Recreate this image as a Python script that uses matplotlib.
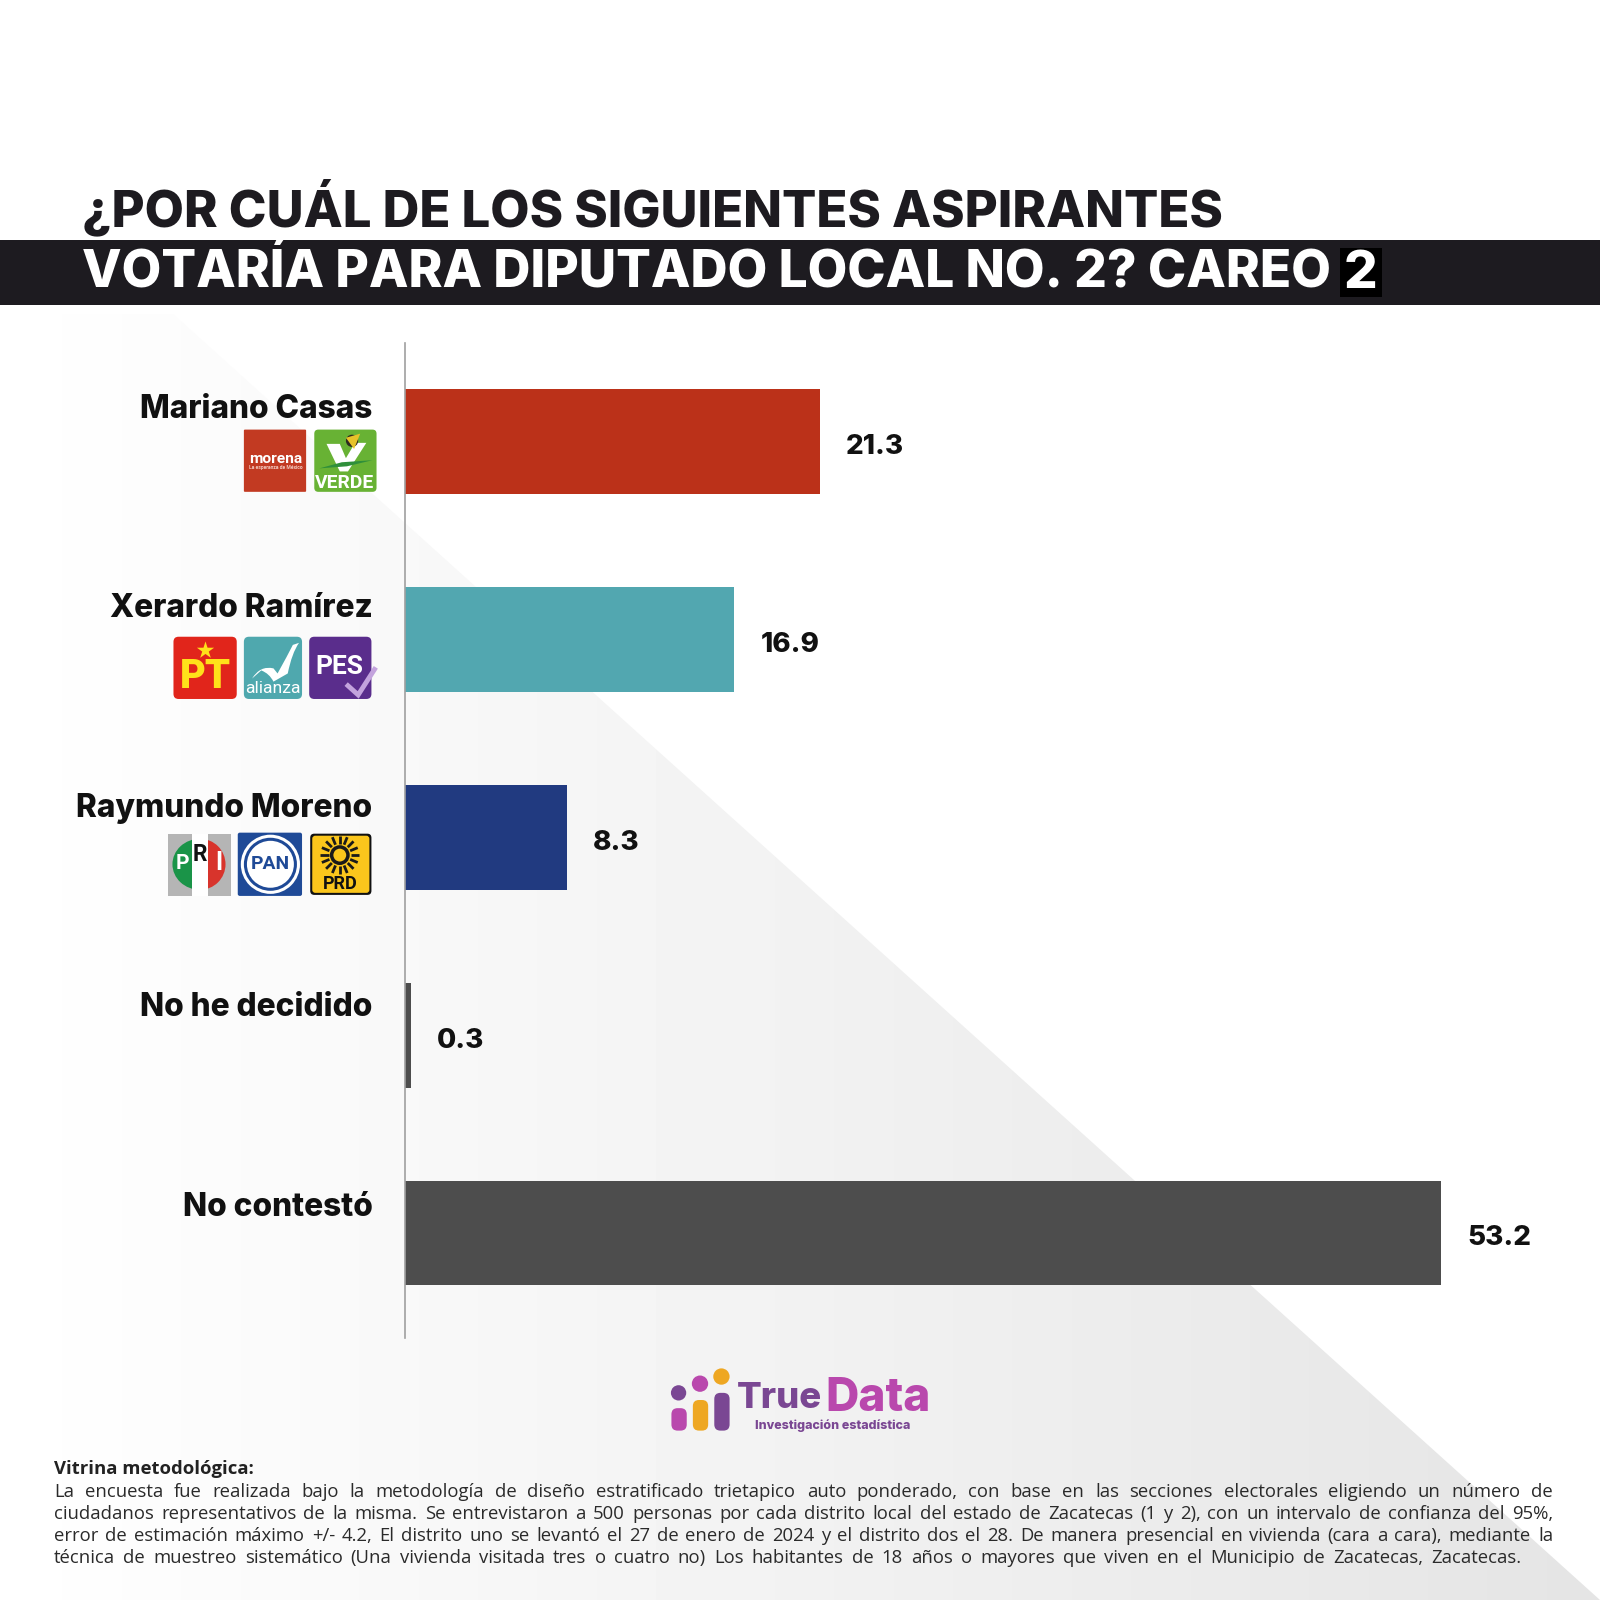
import numpy as np
import matplotlib
matplotlib.use("Agg")
import matplotlib.pyplot as plt
from matplotlib.patches import Rectangle, FancyBboxPatch, Circle, Polygon, Wedge, PathPatch, Ellipse
from matplotlib.path import Path

# ---------- data ----------
names = ["Mariano Casas", "Xerardo Ramírez", "Raymundo Moreno", "No he decidido", "No contestó"]
values = [21.3, 16.9, 8.3, 0.3, 53.2]
bar_colors = ["#bb3119", "#52a7b0", "#213a80", "#4d4d4d", "#4d4d4d"]
title_1 = "¿POR CUÁL DE LOS SIGUIENTES ASPIRANTES"
title_2 = "VOTARÍA PARA DIPUTADO LOCAL NO. 2? CAREO"
footer_head = "Vitrina metodológica:"
footer_lines = [
    "La encuesta fue realizada bajo la metodología de diseño estratificado trietapico auto ponderado, con base en las secciones electorales eligiendo un número de",
    "ciudadanos representativos de la misma. Se entrevistaron a 500 personas por cada distrito local del estado de Zacatecas (1 y 2), con un intervalo de confianza del 95%,",
    "error de estimación máximo +/- 4.2, El distrito uno se levantó el 27 de enero de 2024 y el distrito dos el 28. De manera presencial en vivienda (cara a cara), mediante la",
    "técnica de muestreo sistemático (Una vivienda visitada tres o cuatro no) Los habitantes de 18 años o mayores que viven en el Municipio de Zacatecas, Zacatecas.",
]

S = 1568.0
FONT = "Inter"
HEAVY = 800
BODY = "Open Sans"
fig = plt.figure(figsize=(16, 16), dpi=100, facecolor="white")
bg = fig.add_axes([0, 0, 1, 1], zorder=0)
bg.axis("off")
renderer = fig.canvas.get_renderer()


def fit(t, width):
    w = t.get_window_extent(renderer).width
    t.set_fontsize(t.get_fontsize() * width * (1600 / S) / w)
    return t


# background wedge with horizontal gradient
grad = np.linspace(1, 0.895, 512).reshape(1, -1)
im = bg.imshow(grad, extent=(0, S, S, 0), aspect="auto", cmap="gray", vmin=0, vmax=1, zorder=0)
wedge = Polygon([(170, 308), (S, S), (0, S), (0, 308)], closed=True, transform=bg.transData, fc="none", ec="none")
bg.add_patch(wedge)
im.set_clip_path(wedge)
bg.set_xlim(0, S)
bg.set_ylim(S, 0)

# header
bg.add_patch(Rectangle((0, 235), S, 64, fc="#1d1b20", ec="none", zorder=1))
fit(bg.text(80, 203, title_1, family=FONT, weight=HEAVY, size=40, color="#1d1b20", va="center", zorder=2), 1118)
fit(bg.text(80, 267, title_2, family=FONT, weight=HEAVY, size=40, color="white", va="center", zorder=2), 1224)
bg.add_patch(Rectangle((1313, 243), 41, 48, fc="black", ec="none", zorder=2))
bg.text(1333, 269, "2", family=FONT, weight=HEAVY, size=38, color="white", ha="center", va="center", zorder=3)

# bars
ax_left, ax_right, ax_top, ax_bottom = 397, 1568, 336, 1311
ax = fig.add_axes([ax_left / S, 1 - ax_bottom / S, (ax_right - ax_left) / S, (ax_bottom - ax_top) / S], zorder=1)
ax.patch.set_alpha(0)
y = np.arange(len(values))
ax.barh(y, values, height=0.53, color=bar_colors, linewidth=0)
ax.set_xlim(0, (ax_right - ax_left) / 19.08)
ax.set_ylim(4.53, -0.5)
for s in ["top", "right", "bottom"]:
    ax.spines[s].set_visible(False)
ax.spines["left"].set_color("#a0a0a0")
ax.spines["left"].set_linewidth(1.2)
ax.set_xticks([])
ax.set_yticks([])
for i, (n, v) in enumerate(zip(names, values)):
    ax.annotate(n, (0, i), xytext=(-23.5, 23.5 - 1.27 * i), textcoords="offset points", family=FONT, weight=HEAVY,
                fontsize=22.8, color="#111111", ha="right", va="center", annotation_clip=False)
    ax.annotate(f"{v:.1f}", (v, i), xytext=(19, -4), textcoords="offset points", family=FONT, weight=HEAVY,
                fontsize=20, color="#111111", ha="left", va="center", annotation_clip=False)


# ---------- logos ----------
def box(x0, y0, x1, y1, c, r=4, z=3):
    bg.add_patch(FancyBboxPatch((x0 + r, y0 + r), x1 - x0 - 2 * r, y1 - y0 - 2 * r,
                                boxstyle=f"round,pad={r},rounding_size={r}", fc=c, ec="none", zorder=z))


def label(x, yy, s, c, w, **k):
    t = bg.text(x, yy, s, color=c, family=k.pop("family", "Roboto"), weight=k.pop("weight", "bold"), size=10,
                ha="center", va="center", zorder=6, **k)
    fit(t, w)


# morena
box(239, 421, 300, 482, "#c23a22", r=1)
label(270, 450, "morena", "white", 52)
label(270, 458, "La esperanza de México", "#f2c9bf", 54)
# verde
box(308, 421, 369, 482, "#68b234", r=4)
bg.add_patch(Polygon([(320, 435), (333, 435), (339, 449), (348, 434), (359, 434), (341, 462), (333, 462)], fc="white", ec="none", zorder=4))
bg.add_patch(Polygon([(313, 459), (335, 453), (365, 451), (340, 457)], fc="#2f8f3a", ec="none", zorder=5))
bg.add_patch(Circle((345, 432), 6, fc="#2c2a20", ec="none", zorder=5))
bg.add_patch(Polygon([(339, 429), (353, 425), (347, 440)], fc="#e6c229", ec="none", zorder=5))
label(338, 473, "VERDE", "white", 58)
# PT
box(170, 624, 232, 685, "#e1251b", r=5)
bg.scatter([201], [637], s=170, marker="*", color="#ffe11a", linewidth=0, zorder=5)
label(201, 663, "PT", "#ffe11a", 50, weight="black")
# alianza
box(239, 624, 296, 685, "#4fa8ae", r=5)
swoosh = Path([(247, 665), (255, 652), (268, 655), (272, 660), (282, 642), (287, 632), (293, 630), (286, 640), (282, 660), (268, 668), (264, 660), (256, 657), (247, 665)],
              [Path.MOVETO, Path.CURVE3, Path.CURVE3, Path.LINETO, Path.CURVE3, Path.CURVE3, Path.LINETO, Path.CURVE3, Path.CURVE3, Path.LINETO, Path.CURVE3, Path.CURVE3, Path.LINETO])
bg.add_patch(PathPatch(swoosh, fc="white", ec="none", zorder=5))
label(267, 675, "alianza", "white", 54, weight="normal")
# PES
box(303, 624, 364, 685, "#5a2d8c", r=5)
label(333, 654, "PES", "white", 47)
bg.plot([341, 351, 367], [672, 681, 656], color="#c3a3dd", lw=3.5, solid_joinstyle="miter", zorder=6)
# PRI
bg.add_patch(Rectangle((165, 817), 61, 61, fc="#b5b5b5", ec="none", zorder=3))
bg.add_patch(Ellipse((196, 847), 54, 50, fc="#1a9448", ec="none", zorder=4))
bg.add_patch(Rectangle((196, 817), 30, 61, fc="#b5b5b5", ec="none", zorder=4))
bg.add_patch(Wedge((196, 847), 25, -90, 90, fc="#d8342c", ec="none", zorder=4))
bg.add_patch(Rectangle((188, 817), 16, 61, fc="white", ec="none", zorder=5))
label(179, 846, "P", "white", 13)
label(196, 837, "R", "#111111", 14)
label(214, 846, "I", "white", 7)
# PAN
box(233, 816, 296, 878, "#1f4a97", r=2)
bg.add_patch(Circle((265, 847), 29, fc="white", ec="none", zorder=4))
bg.add_patch(Circle((265, 847), 26, fc="#1f4a97", ec="none", zorder=4))
bg.add_patch(Circle((265, 847), 23, fc="white", ec="none", zorder=4))
label(265, 847, "PAN", "#1f4a97", 38, stretch="condensed")
# PRD
box(304, 817, 364, 877, "#111111", r=4)
box(306, 819, 362, 875, "#fbc61c", r=3, z=4)
bg.add_patch(Circle((333, 838), 8, fc="none", ec="#1a1a1a", lw=2.5, zorder=5))
for a in np.deg2rad(np.arange(0, 360, 22.5)):
    bg.plot([333 + 11 * np.cos(a), 333 + 19 * np.cos(a)], [838 + 11 * np.sin(a), 838 + 19 * np.sin(a)],
            color="#1a1a1a", lw=2, zorder=5, solid_capstyle="butt")
label(333, 866, "PRD", "#111111", 34)

# ---------- TrueData brand ----------
PURPLE, PINK, ORANGE = "#7a4793", "#b948ad", "#eea722"
for cx, cy, r, c in [(665, 1365, 7.5, PURPLE), (686, 1356, 8, PINK), (707, 1349, 8, ORANGE)]:
    bg.add_patch(Circle((cx, cy), r, fc=c, ec="none", zorder=3))
for x0, y0, c in [(658, 1380, PINK), (679, 1372, ORANGE), (700, 1365, PURPLE)]:
    box(x0, y0, x0 + 15, 1402, c, r=6)
t1 = bg.text(722, 1371, "True", family=FONT, weight=HEAVY, size=30, color=PURPLE, va="center", zorder=3)
fit(t1, 84)
t2 = bg.text(809, 1371, "Data", family=FONT, weight=HEAVY, size=30, color=PINK, va="center", zorder=3)
fit(t2, 103)
fit(bg.text(740, 1397, "Investigación estadística", family=FONT, weight=HEAVY, size=9, color=PURPLE, va="center", zorder=3), 153)

# ---------- footer ----------
FOOT = 13.3
bg.text(53, 1440, footer_head, family=BODY, weight="bold", size=FOOT, color="#222222", va="center", zorder=3)


def justified(line, yy, x0, x1):
    words = line.split(" ")
    ts = [bg.text(0, yy, w, family=BODY, size=FOOT, color="#2a2a2a", va="center", zorder=3) for w in words]
    ws = [t.get_window_extent(renderer).width * S / 1600 for t in ts]
    gap = (x1 - x0 - sum(ws)) / (len(words) - 1)
    x = x0
    for t, w in zip(ts, ws):
        t.set_x(x)
        x += w + gap


line_y = [1462, 1484, 1505, 1527]
line_end = [1522, 1522, 1522, 1491]
for line, yy, xe in zip(footer_lines, line_y, line_end):
    justified(line, yy, 53, xe)

fig.savefig("out.png", dpi=100, facecolor="white")
